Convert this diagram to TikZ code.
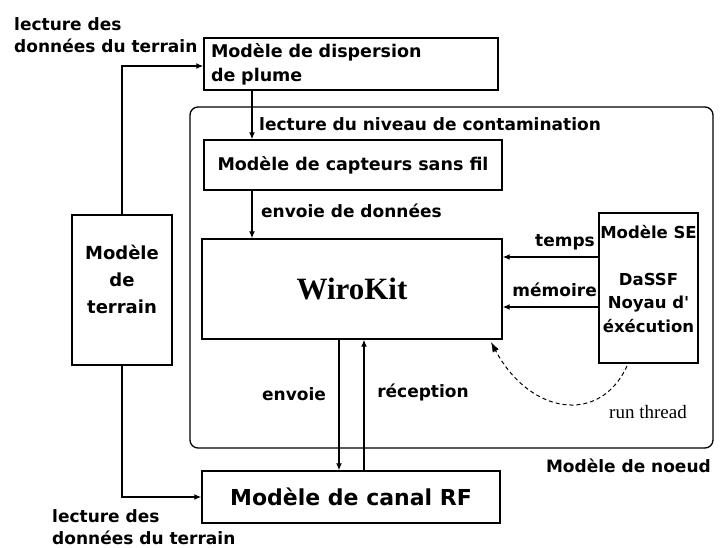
\documentclass[tikz,border=0pt]{standalone}
\usepackage{fontspec}
\newfontfamily\dvsans{DejaVu Sans}
\newfontfamily\lserif{Liberation Serif}
\usetikzlibrary{arrows.meta}
\begin{document}
\begin{tikzpicture}[x=1pt,y=-1pt,
  box/.style={draw, line width=1.4pt, inner sep=0pt},
  boxfont/.style={font=\dvsans\bfseries\fontsize{17.5}{24}\selectfont},
  lbl/.style={font=\dvsans\bfseries\fontsize{17}{22}\selectfont, inner sep=0pt},
  conn/.style={line width=1.3pt, -{Latex[length=7pt,width=6pt]}},
  dashconn/.style={line width=1pt, dash pattern=on 4pt off 3pt, -{Latex[length=10pt,width=7pt]}}
]
\useasboundingbox (0,0) rectangle (723,547);

% node container
\draw[line width=1.3pt, rounded corners=8pt] (190,107) rectangle (713,448);

% boxes
\node[box, boxfont, minimum width=294pt, minimum height=52pt, text width=280pt,
      inner xsep=7pt, align=left] (plume) at (351,64)
  {Modèle de dispersion\\de plume};
\node[box, boxfont, minimum width=298pt, minimum height=50pt] (capteurs) at (353,165)
  {Modèle de capteurs sans fil};
\node[box, minimum width=300pt, minimum height=100pt,
      font=\lserif\bfseries\fontsize{31}{34}\selectfont] (wiro) at (352,289) {WiroKit};
\node[box, minimum width=298pt, minimum height=52pt,
      font=\dvsans\bfseries\fontsize{22}{26}\selectfont] (canal) at (351,497)
  {Modèle de canal RF};
\node[box, minimum width=100pt, minimum height=150pt] (terrain) at (122,290) {};
\node[align=center, inner sep=0pt, font=\dvsans\bfseries\fontsize{18}{27}\selectfont]
  (terraintxt) at (122,279) {Modèle\\de\\terrain};
\node[box, minimum width=99pt, minimum height=150pt] (se) at (648.5,288) {};
\node[align=center, inner sep=0pt, font=\dvsans\bfseries\fontsize{16.5}{23.5}\selectfont]
  (setxt) at (648.5,279) {Modèle SE\\[0pt]\strut\\DaSSF\\Noyau d'\\éxécution};

% connector anchors
\coordinate (tA) at (122,66);
\coordinate (tB) at (122,497);

% connectors
\draw[conn] (terrain.north) -- (tA) -- (plume.west |- tA);
\draw[conn] (terrain.south) -- (tB) -- (canal.west |- tB);
\draw[conn] (plume.south -| 252,0) -- (capteurs.north -| 252,0);
\draw[conn] (capteurs.south -| 252,0) -- (wiro.north -| 252,0);
\draw[conn] (wiro.south -| 339,0) -- (canal.north -| 339,0);
\draw[conn] (canal.north -| 364,0) -- (wiro.south -| 364,0);
\draw[conn] (se.west |- 0,257) -- (wiro.east |- 0,257);
\draw[conn] (se.west |- 0,307) -- (wiro.east |- 0,307);
\draw[dashconn] (627,366) .. controls (600,425) and (530,415) .. (491,342);

% labels
\node[lbl, align=left, anchor=west] (ltop) at (14,35) {lecture des\\données du terrain};
\node[lbl, align=left, anchor=west] (lbot) at (52,527) {lecture des\\données du terrain};
\node[lbl, anchor=west] (lcont) at (259,124) {lecture du niveau de contamination};
\node[lbl, anchor=west] (lenvd) at (261,211) {envoie de données};
\node[lbl, anchor=east] (ltemps) at (595,242) {temps};
\node[lbl, anchor=east] (lmem) at (597,290) {mémoire};
\node[lbl] (lenv) at (294,394) {envoie};
\node[lbl] (lrec) at (423,392) {réception};
\node[lbl, anchor=east] (lnoeud) at (711,466) {Modèle de noeud};
\node[font=\lserif\fontsize{19}{22}\selectfont, inner sep=0pt] (lrun) at (648,412) {run thread};
\end{tikzpicture}
\end{document}
